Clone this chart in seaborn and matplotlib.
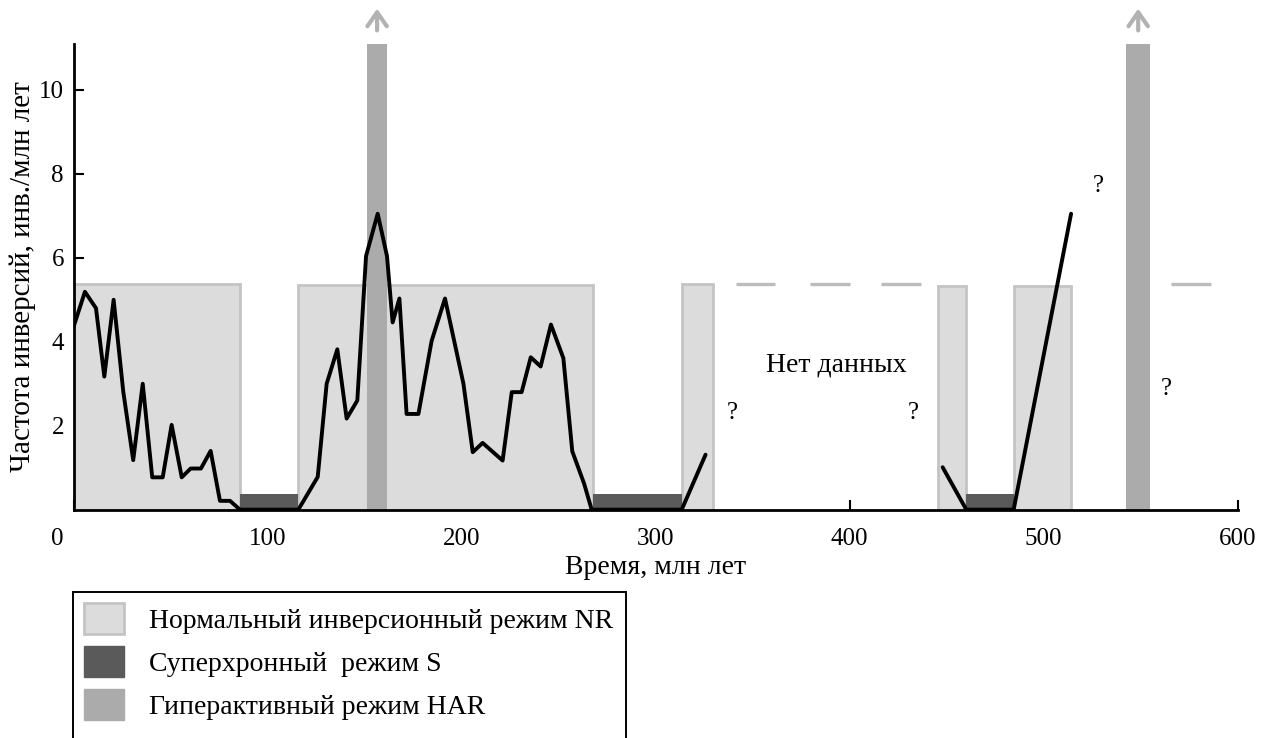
import numpy as np
import pandas as pd
import matplotlib
matplotlib.use("Agg")
import matplotlib.pyplot as plt
import matplotlib.transforms as mtransforms
from matplotlib.patches import Patch, Rectangle
import seaborn as sns

# --- data ---
# inversion frequency curve, two continuous pieces
seg1_time = [0, 5.8, 11.5, 15.8, 20.6, 25.6, 30.7, 35.6, 40.5, 45.9, 50.5, 55.7, 60.3, 65.6,
             70.6, 75.4, 80.6, 85.7, 115.8, 125.8, 130.4, 135.9, 140.7, 146.2, 150.7, 156.7,
             161.5, 164.4, 167.9, 171.6, 177.7, 184.5, 191.4, 200.9, 205.7, 210.8, 221.1, 225.8,
             230.9, 235.6, 240.7, 246.0, 252.4, 257.0, 263.1, 267.0, 313.4, 325.7]
seg1_freq = [4.36, 5.19, 4.8, 3.17, 5.0, 2.8, 1.18, 3.0, 0.77, 0.77, 2.02, 0.77, 0.98, 0.98,
             1.4, 0.21, 0.21, 0, 0, 0.78, 3.0, 3.82, 2.17, 2.6, 6.04, 7.05,
             6.04, 4.46, 5.03, 2.28, 2.28, 4.02, 5.03, 3.0, 1.37, 1.59, 1.17, 2.8,
             2.8, 3.63, 3.41, 4.41, 3.61, 1.39, 0.62, 0, 0, 1.31]
seg2_time = [447.9, 460.1, 484.5, 514.1]
seg2_freq = [1.01, 0, 0, 7.05]

# regime intervals (start, end, height)
nr_start = [0, 115.8, 313.4, 445.4, 484.5]
nr_end = [85.6, 267.9, 329.3, 460.1, 514.1]
nr_height = [5.37, 5.35, 5.37, 5.33, 5.33]

s_start = [85.6, 267.9, 460.1]
s_end = [115.8, 313.4, 484.5]
s_height = [0.37, 0.38, 0.38]

har_start = [151.3, 542.6]
har_end = [161.5, 554.8]
har_height = [11.1, 11.1]

# "no data" dashed level
nodata_start = [341.5, 379.6, 416.3, 565.6]
nodata_end = [361.5, 400.0, 436.7, 586.0]
nodata_level = 5.38

# question marks
q_time = [339.4, 432.5, 528.2, 563.0]
q_freq = [2.31, 2.31, 7.71, 2.88]

x_ticks = [0, 100, 200, 300, 400, 500, 600]
y_ticks = [2, 4, 6, 8, 10]

NR_COLOR = "#dcdcdc"
NR_EDGE = "#c4c4c4"
S_COLOR = "#5a5a5a"
HAR_COLOR = "#ababab"

sns.set_theme(style="ticks")
plt.rcParams["font.family"] = ["Liberation Serif", "DejaVu Serif"]
plt.rcParams["text.color"] = "black"
plt.rcParams["axes.labelcolor"] = "black"

fig = plt.figure(figsize=(12.7, 7.38), dpi=100)
ax = fig.add_axes([0.058, 0.3094, 0.9166, 0.6314])

ax.bar(nr_start, nr_height, width=np.subtract(nr_end, nr_start), align="edge",
       color=NR_COLOR, edgecolor=NR_EDGE, linewidth=2, zorder=1)
ax.bar(s_start, s_height, width=np.subtract(s_end, s_start), align="edge",
       color=S_COLOR, linewidth=0, zorder=2)
ax.bar(har_start, har_height, width=np.subtract(har_end, har_start), align="edge",
       color=HAR_COLOR, linewidth=0, zorder=3)

curve = pd.DataFrame({
    "time": seg1_time + seg2_time,
    "freq": seg1_freq + seg2_freq,
    "seg": [1] * len(seg1_time) + [2] * len(seg2_time),
})
sns.lineplot(data=curve, x="time", y="freq", units="seg", estimator=None, sort=False,
             color="black", linewidth=2.8, ax=ax, zorder=4)

ax.hlines([nodata_level] * len(nodata_start), nodata_start, nodata_end,
          color="#bcbcbc", linewidth=2.4, zorder=2)

# arrows above the hyperactive bars
for s, e in zip(har_start, har_end):
    xc = (s + e) / 2
    ax.annotate("", xy=(xc, 12.0), xytext=(xc, 11.35), annotation_clip=False,
                arrowprops=dict(arrowstyle="->,head_length=0.5,head_width=0.35",
                                color="#b2b2b2", lw=3, mutation_scale=20))

ax.text(393.2, 3.44, "Нет данных", fontsize=20, ha="center", va="center")
for x, y in zip(q_time, q_freq):
    ax.text(x, y, "?", fontsize=18, ha="center", va="center")

ax.set_xlim(0, 600)
ax.set_ylim(0, 11.1)
ax.set_xticks(x_ticks)
ax.set_yticks(y_ticks)
ax.tick_params(direction="in", length=7, width=1.5, labelsize=18, colors="black")
ax.tick_params(axis="y", pad=7)
ax.tick_params(axis="x", pad=13)
sns.despine(ax=ax)
for side in ["left", "bottom"]:
    ax.spines[side].set_linewidth(2)
    ax.spines[side].set_color("black")
    ax.spines[side].set_zorder(6)

# the "0" label sits left of the origin in the reference
zero_lbl = ax.get_xticklabels()[0]
zero_lbl.set_transform(zero_lbl.get_transform() +
                       mtransforms.ScaledTranslation(-16 / 100, 0, fig.dpi_scale_trans))

ax.set_xlabel("Время, млн лет", fontsize=20, labelpad=4)
ax.set_ylabel("Частота инверсий, инв./млн лет", fontsize=21, labelpad=2)

handles = [
    Patch(facecolor=NR_COLOR, edgecolor=NR_EDGE, linewidth=2,
          label="Нормальный инверсионный режим NR"),
    Patch(facecolor=S_COLOR, edgecolor=S_COLOR, label="Суперхронный  режим S"),
    Patch(facecolor=HAR_COLOR, edgecolor=HAR_COLOR, label="Гиперактивный режим HAR"),
]
fig.legend(handles=handles, loc="upper left", bbox_to_anchor=(73 / 1270, 1 - 592 / 738),
           fontsize=20, handlelength=1.44, handleheight=1.33, handletextpad=0.9,
           labelspacing=0.44, borderpad=0.4, borderaxespad=0, frameon=False,
           labelcolor="black")

# legend box runs off the bottom edge of the figure in the reference
fig.patches.append(Rectangle((73 / 1270, -10 / 738), (626 - 73) / 1270, (738 + 10 - 592) / 738,
                             transform=fig.transFigure, fill=False, edgecolor="black",
                             linewidth=1.4))

fig.savefig("out.png", dpi=100)
